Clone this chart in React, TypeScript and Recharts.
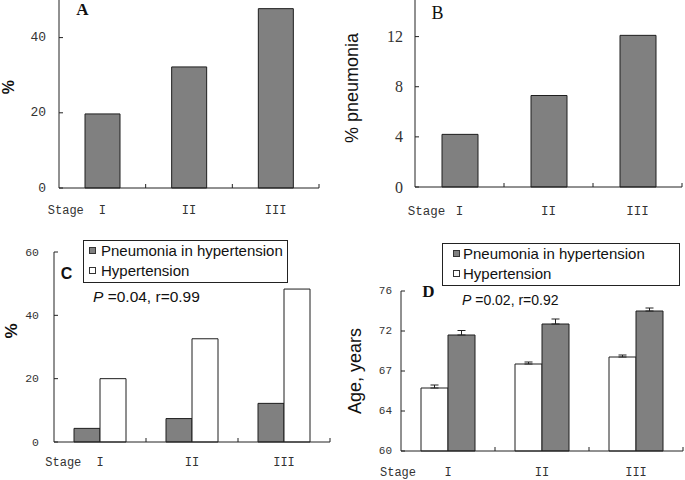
import React from "react";
import { BarChart, Bar, XAxis, YAxis, Legend, ErrorBar } from "recharts";

const stages = ["I", "II", "III"];

// A: hypertension, %
const hypertensionPctA = [19.7, 32.2, 47.7];
// B: % pneumonia
const pneumoniaPctB = [4.2, 7.3, 12.1];
// C: both groups, %
const pneumoniaPctC = [4.3, 7.4, 12.2];
const hypertensionPctC = [20.0, 32.6, 48.3];
// D: age, years (mean, error)
const ageHypertension = [66.3, 68.7, 69.4];
const ageHypertensionErr = [0.3, 0.2, 0.2];
const agePneumonia = [71.6, 72.7, 74.0];
const agePneumoniaErr = [0.45, 0.5, 0.3];

const ticksA = [0, 20, 40];
const ticksB = [0, 4, 8, 12];
const ticksC = [0, 20, 40, 60];
const ticksD = [60, 64, 68, 72, 76];
const tickLabelsD = ["60", "64", "67", "72", "76"];

const legendNames = ["Pneumonia in hypertension", "Hypertension"];
const legendFills = ["#808080", "#ffffff"];

const GRAY = "#808080";
const EDGE = "#1e1e1e";
const MONO = "'Liberation Mono', monospace";
const SANS = "'Liberation Sans', Arial, sans-serif";
const SERIF = "'Liberation Serif', 'Times New Roman', serif";

const dataA = stages.map((s, i) => ({ stage: s, value: hypertensionPctA[i] }));
const dataB = stages.map((s, i) => ({ stage: s, value: pneumoniaPctB[i] }));
const dataC = stages.map((s, i) => ({
  stage: s,
  pne: pneumoniaPctC[i],
  hyp: hypertensionPctC[i],
}));
const dataD = stages.map((s, i) => ({
  stage: s,
  hyp: ageHypertension[i],
  hypErr: [0, ageHypertensionErr[i]],
  pne: agePneumonia[i],
  pneErr: [0, agePneumoniaErr[i]],
}));

function YTick(props: any) {
  const { x, y, payload, index, tgap, tfont, tsize, tlabels } = props;
  const label = tlabels ? tlabels[index] : String(payload.value);
  return (
    <g>
      <line x1={x} x2={x + 4} y1={y} y2={y} stroke="#222" />
      <text
        x={x - tgap}
        y={y}
        textAnchor="end"
        dominantBaseline="central"
        fontFamily={tfont}
        fontSize={tsize}
        fill="#333"
      >
        {label}
      </text>
    </g>
  );
}

function XTick(props: any) {
  const { x, y, payload, index, tdy, tsize, thalf, tstage } = props;
  return (
    <g>
      <line x1={x + thalf} x2={x + thalf} y1={y} y2={y - 4} stroke="#222" />
      <text
        x={x}
        y={y + tdy}
        textAnchor="middle"
        dominantBaseline="central"
        fontFamily={MONO}
        fontSize={tsize}
        fill="#333"
      >
        {payload.value}
      </text>
      {index === 0 && (
        <text
          x={x - tstage}
          y={y + tdy}
          textAnchor="middle"
          dominantBaseline="central"
          fontFamily={MONO}
          fontSize={tsize}
          fill="#333"
        >
          Stage
        </text>
      )}
    </g>
  );
}

function YTitle(props: any) {
  const { cx, cy, text, size, weight } = props;
  return (
    <text
      x={cx}
      y={cy}
      transform={`rotate(-90 ${cx} ${cy})`}
      textAnchor="middle"
      dominantBaseline="central"
      fontFamily={SANS}
      fontSize={size}
      fontWeight={weight}
      fill="#111"
    >
      {text}
    </text>
  );
}

function BoxLegend(props: any) {
  const { width, iconLeft, textLeft } = props;
  return (
    <div
      style={{
        width,
        border: "1px solid #222",
        boxSizing: "border-box",
        background: "#fff",
        fontFamily: SANS,
        fontSize: 15,
        color: "#111",
        padding: "0 0 1px 0",
      }}
    >
      {legendNames.map((name, i) => (
        <div key={name} style={{ position: "relative", height: 20, lineHeight: "20px" }}>
          <span
            style={{
              position: "absolute",
              left: iconLeft,
              top: 6,
              width: 7,
              height: 7,
              background: legendFills[i],
              border: "1px solid #333",
              boxSizing: "border-box",
            }}
          />
          <span style={{ position: "absolute", left: textLeft, top: 0, whiteSpace: "nowrap" }}>
            {name}
          </span>
        </div>
      ))}
    </div>
  );
}

const axisLine = { stroke: "#222", strokeWidth: 1 };

export default function App() {
  return (
    <div
      style={{
        position: "absolute",
        left: 0,
        top: 0,
        width: 685,
        height: 480,
        background: "#fff",
        overflow: "hidden",
      }}
    >
      {/* Panel A */}
      <div style={{ position: "absolute", left: 0, top: 0 }}>
        <BarChart width={330} height={230} data={dataA} margin={{ top: 0, right: 11, bottom: 0, left: 0 }}>
          <XAxis
            dataKey="stage"
            height={42}
            axisLine={axisLine}
            tickLine={false}
            tickSize={0}
            tickMargin={0}
            interval={0}
            tick={<XTick tdy={23} tsize={12} thalf={260 / 6} tstage={36.5} />}
          />
          <YAxis
            width={59}
            domain={[0, 50]}
            ticks={ticksA}
            axisLine={axisLine}
            tickLine={false}
            tickSize={0}
            tickMargin={0}
            tick={<YTick tgap={13} tfont={MONO} tsize={13} />}
            label={<YTitle cx={8.5} cy={87} text="%" size={16} weight={700} />}
          />
          <Bar dataKey="value" fill={GRAY} stroke={EDGE} strokeWidth={1} barSize={35} isAnimationActive={false} />
        </BarChart>
      </div>

      {/* Panel B */}
      <div style={{ position: "absolute", left: 340, top: -1 }}>
        <BarChart width={345} height={231} data={dataB} margin={{ top: 0, right: 3, bottom: 0, left: 0 }}>
          <XAxis
            dataKey="stage"
            height={43}
            axisLine={axisLine}
            tickLine={false}
            tickSize={0}
            tickMargin={0}
            interval={0}
            tick={<XTick tdy={25} tsize={12.5} thalf={267 / 6} tstage={33} />}
          />
          <YAxis
            width={75}
            domain={[0, 15]}
            ticks={ticksB}
            axisLine={axisLine}
            tickLine={false}
            tickSize={0}
            tickMargin={0}
            tick={<YTick tgap={12} tfont={SERIF} tsize={16} />}
            label={<YTitle cx={12} cy={89} text="% pneumonia" size={18} weight={400} />}
          />
          <Bar dataKey="value" fill={GRAY} stroke={EDGE} strokeWidth={1} barSize={36} isAnimationActive={false} />
        </BarChart>
      </div>

      {/* Panel C */}
      <div style={{ position: "absolute", left: 0, top: 232 }}>
        <BarChart
          width={340}
          height={248}
          data={dataC}
          barGap={0}
          margin={{ top: 20, right: 10, bottom: 0, left: 0 }}
        >
          <XAxis
            dataKey="stage"
            height={38}
            axisLine={axisLine}
            tickLine={false}
            tickSize={0}
            tickMargin={0}
            interval={0}
            tick={<XTick tdy={21} tsize={12} thalf={276 / 6} tstage={36.7} />}
          />
          <YAxis
            width={54}
            domain={[0, 60]}
            ticks={ticksC}
            axisLine={axisLine}
            tickLine={false}
            tickSize={0}
            tickMargin={0}
            tick={<YTick tgap={15} tfont={MONO} tsize={11.5} />}
            label={<YTitle cx={11.7} cy={99} text="%" size={17} weight={700} />}
          />
          <Legend
            layout="vertical"
            align="center"
            verticalAlign="middle"
            wrapperStyle={{ left: 83, top: 8, width: 205 }}
            content={<BoxLegend width={205} iconLeft={5} textLeft={17} />}
          />
          <Bar dataKey="pne" fill={GRAY} stroke={EDGE} strokeWidth={1} barSize={26} isAnimationActive={false} />
          <Bar dataKey="hyp" fill="#fff" stroke={EDGE} strokeWidth={1} barSize={26} isAnimationActive={false} />
        </BarChart>
      </div>

      {/* Panel D */}
      <div style={{ position: "absolute", left: 340, top: 232 }}>
        <BarChart
          width={345}
          height={248}
          data={dataD}
          barGap={0}
          margin={{ top: 59, right: 2, bottom: 0, left: 0 }}
        >
          <XAxis
            dataKey="stage"
            height={29}
            axisLine={axisLine}
            tickLine={false}
            tickSize={0}
            tickMargin={0}
            interval={0}
            tick={<XTick tdy={22} tsize={12} thalf={282 / 6} tstage={50} />}
          />
          <YAxis
            width={61}
            domain={[60, 76]}
            ticks={ticksD}
            axisLine={axisLine}
            tickLine={false}
            tickSize={0}
            tickMargin={0}
            tick={<YTick tgap={9} tfont={MONO} tsize={11} tlabels={tickLabelsD} />}
            label={<YTitle cx={15} cy={139} text="Age, years" size={18} weight={400} />}
          />
          <Legend
            layout="vertical"
            align="center"
            verticalAlign="middle"
            wrapperStyle={{ left: 102, top: 11, width: 238 }}
            content={<BoxLegend width={238} iconLeft={10} textLeft={20} />}
          />
          <Bar dataKey="hyp" fill="#fff" stroke={EDGE} strokeWidth={1} barSize={27} isAnimationActive={false}>
            <ErrorBar dataKey="hypErr" direction="y" width={4} stroke="#222" strokeWidth={1} />
          </Bar>
          <Bar dataKey="pne" fill={GRAY} stroke={EDGE} strokeWidth={1} barSize={27} isAnimationActive={false}>
            <ErrorBar dataKey="pneErr" direction="y" width={4} stroke="#222" strokeWidth={1} />
          </Bar>
        </BarChart>
      </div>

      {/* panel letters and statistics */}
      <svg
        width={685}
        height={480}
        style={{ position: "absolute", left: 0, top: 0, pointerEvents: "none" }}
      >
        <text x={82.5} y={9} textAnchor="middle" dominantBaseline="central" fontFamily={SERIF} fontWeight={700} fontSize={17} fill="#111">
          A
        </text>
        <text x={437.5} y={13} textAnchor="middle" dominantBaseline="central" fontFamily={SERIF} fontSize={18} fill="#111">
          B
        </text>
        <text x={66.5} y={273.5} textAnchor="middle" dominantBaseline="central" fontFamily={SANS} fontWeight={700} fontSize={16} fill="#111">
          C
        </text>
        <text x={428.5} y={291} textAnchor="middle" dominantBaseline="central" fontFamily={SERIF} fontWeight={700} fontSize={17} fill="#111">
          D
        </text>
        <text x={93} y={296} dominantBaseline="central" fontFamily={SANS} fontSize={15.5} fill="#111">
          <tspan fontStyle="italic">P</tspan> =0.04, r=0.99
        </text>
        <text x={462} y={300} dominantBaseline="central" fontFamily={SANS} fontSize={14} fill="#111">
          <tspan fontStyle="italic">P</tspan> =0.02,  r=0.92
        </text>
      </svg>
    </div>
  );
}
